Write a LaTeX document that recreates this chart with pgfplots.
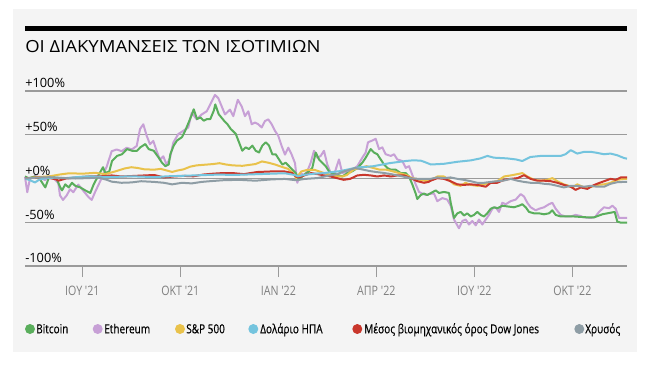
\documentclass[border=0pt]{standalone}
\usepackage{pgfplots}
\pgfplotsset{compat=1.18}
\usepackage{fontspec}
\setmainfont{Open Sans}
\newfontfamily\titlef{Open Sans}[FakeStretch=1.11]
\newfontfamily\condf{Open Sans}[FakeStretch=0.82]
\newfontfamily\legf{Open Sans}[FakeStretch=0.8,FakeBold=0.4]
\definecolor{btc}{HTML}{5AAE5C}
\definecolor{eth}{HTML}{C7A0D6}
\definecolor{spx}{HTML}{E9C24B}
\definecolor{usd}{HTML}{74C4DE}
\definecolor{dji}{HTML}{C9372C}
\definecolor{gold}{HTML}{8E9DA5}
\definecolor{panel}{HTML}{F4F4F4}
\definecolor{gridc}{HTML}{9A9A9A}
\definecolor{ticklab}{HTML}{7F7F7F}
\pgfdeclarelayer{bg}
\pgfsetlayers{bg,main}
\begin{document}
\begin{tikzpicture}
\begin{axis}[scale only axis,
  width=451.5pt, height=131.25pt,
  xmin=4.246, xmax=22.673, ymin=-100, ymax=100, clip=false,
  axis x line=bottom, axis y line=left,
  y axis line style={draw=none},
  x axis line style={draw=gridc, line width=0.9pt, -},
  ymajorgrids, grid style={gridc, line width=0.9pt},
  ytick={-100,-50,0,50,100},
  yticklabels={-100\%,-50\%,+0\%,+50\%,+100\%},
  ytick style={draw=none},
  yticklabel style={font=\fontsize{9.6pt}{11pt}\selectfont, anchor=south west, inner sep=0pt, yshift=2pt, xshift=8.25pt},
  xtick={6,9,12,15,18,21},
  xticklabels={ΙΟΥ '21,ΟΚΤ '21,ΙΑΝ '22,ΑΠΡ '22,ΙΟΥ '22,ΟΚΤ '22},
  tick align=outside, major tick length=8.25pt,
  xtick style={draw=gridc, line width=0.75pt},
  xticklabel style={font=\condf\fontsize{9.75pt}{11pt}\selectfont, text=ticklab, anchor=base, yshift=-13.75pt},
  every axis plot/.append style={no markers, line width=1.5pt, line join=round},
]
\addplot[eth] coordinates {(4.246,1.9)(4.316,-15.7)(4.399,0)(4.552,2.7)(4.705,1.5)(4.858,-1.8)(5.011,2.7)(5.112,0.4)(5.265,-5.2)(5.317,-19.3)(5.409,-24.5)(5.522,-19.3)(5.624,-12.3)(5.725,-15.7)(5.877,-7.0)(6.031,-14.0)(6.184,-21.0)(6.288,-24.5)(6.389,-15.7)(6.542,-3.6)(6.747,13.6)(6.900,31.2)(7.053,33.2)(7.206,31.2)(7.359,35.2)(7.512,33.2)(7.665,37.1)(7.766,56.4)(7.867,62.0)(7.971,48.8)(8.072,39.1)(8.173,43.0)(8.277,31.2)(8.378,21.5)(8.479,25.4)(8.583,15.6)(8.684,23.5)(8.786,41.1)(8.939,50.8)(9.092,54.5)(9.244,58.3)(9.349,75.1)(9.502,67.6)(9.655,73.2)(9.808,76.8)(9.961,88.0)(10.062,95.5)(10.163,91.8)(10.267,82.4)(10.368,73.2)(10.521,78.7)(10.622,71.3)(10.760,89.9)(10.879,82.4)(10.980,71.3)(11.081,76.8)(11.185,62.0)(11.286,63.9)(11.387,62.0)(11.491,58.3)(11.592,65.7)(11.693,67.6)(11.797,62.0)(11.898,54.5)(11.999,48.8)(12.103,37.1)(12.204,27.3)(12.305,35.2)(12.409,27.3)(12.510,17.6)(12.581,-4.9)(12.685,6.2)(12.786,3.9)(12.887,8.2)(12.991,18.0)(13.092,31.7)(13.193,23.8)(13.297,25.8)(13.398,31.7)(13.499,16.0)(13.603,6.2)(13.704,4.2)(13.857,21.8)(13.958,6.2)(14.111,8.2)(14.265,10.1)(14.418,14.1)(14.571,23.8)(14.675,29.7)(14.745,41.4)(14.877,43.4)(14.981,45.3)(15.082,33.6)(15.183,35.6)(15.287,27.7)(15.440,25.8)(15.541,27.7)(15.642,21.8)(15.795,20.0)(15.899,12.1)(16.000,14.1)(16.101,4.2)(16.205,-6.7)(16.306,-15.4)(16.408,-17.2)(16.511,-18.9)(16.643,-17.5)(16.765,-17.2)(16.866,-25.9)(17.019,-22.4)(17.172,-24.1)(17.277,-31.1)(17.378,-46.9)(17.530,-56.9)(17.632,-48.6)(17.735,-46.9)(17.837,-52.6)(17.938,-48.6)(18.042,-53.5)(18.143,-46.9)(18.244,-52.6)(18.348,-46.9)(18.449,-41.6)(18.550,-34.6)(18.654,-32.9)(18.755,-38.2)(18.856,-27.7)(18.960,-29.4)(19.113,-25.9)(19.266,-24.1)(19.419,-17.8)(19.520,-20.6)(19.621,-27.7)(19.725,-32.9)(19.878,-36.4)(19.979,-34.6)(20.132,-32.9)(20.285,-29.4)(20.386,-27.7)(20.490,-34.6)(20.643,-41.6)(20.796,-43.4)(20.949,-43.4)(21.102,-41.6)(21.234,-42.7)(21.357,-44.4)(21.562,-45.1)(21.693,-44.2)(21.816,-38.2)(21.969,-32.9)(22.122,-34.0)(22.223,-31.1)(22.327,-34.6)(22.428,-45.1)(22.673,-45.1)};
\addplot[btc] coordinates {(4.246,2.3)(4.359,0.4)(4.561,2.3)(4.714,-1.5)(4.867,-10.2)(4.972,0.4)(5.125,2.3)(5.226,-1.5)(5.327,-10.2)(5.379,-13.6)(5.480,-6.7)(5.584,-10.2)(5.685,-4.9)(5.786,-8.4)(5.939,-10.2)(6.092,-13.6)(6.245,-16.5)(6.349,-6.7)(6.502,4.2)(6.634,12.9)(6.704,6.2)(6.827,8.2)(6.909,20.0)(7.062,25.8)(7.215,27.7)(7.368,33.6)(7.521,31.7)(7.674,31.7)(7.775,35.6)(7.928,39.4)(8.032,33.6)(8.186,31.7)(8.339,23.8)(8.440,18.0)(8.541,14.1)(8.645,16.0)(8.694,27.7)(8.798,37.6)(8.899,43.4)(9.052,47.3)(9.153,54.9)(9.257,64.2)(9.358,73.5)(9.410,79.1)(9.511,67.9)(9.612,69.8)(9.716,66.1)(9.817,67.9)(9.918,67.9)(10.022,77.3)(10.071,84.7)(10.175,73.5)(10.337,66.1)(10.438,62.3)(10.542,56.7)(10.696,51.1)(10.897,31.7)(11.002,35.6)(11.102,33.6)(11.204,37.6)(11.308,31.7)(11.409,29.7)(11.510,37.6)(11.614,41.4)(11.715,37.6)(11.816,27.7)(11.920,27.7)(12.021,21.8)(12.122,16.0)(12.226,18.0)(12.327,14.1)(12.428,10.1)(12.532,6.2)(12.633,-1.5)(12.786,4.2)(12.939,8.2)(13.040,12.1)(13.144,29.7)(13.245,21.8)(13.346,18.0)(13.450,14.1)(13.551,8.2)(13.652,6.2)(13.806,4.2)(13.959,2.3)(14.112,6.2)(14.265,8.2)(14.418,12.1)(14.571,18.0)(14.675,23.8)(14.828,33.6)(14.929,29.7)(15.030,27.7)(15.134,21.8)(15.235,16.0)(15.336,12.1)(15.440,10.1)(15.593,10.1)(15.746,6.2)(15.899,6.2)(16.000,2.3)(16.101,-6.7)(16.205,-17.2)(16.254,-23.5)(16.358,-18.9)(16.459,-17.2)(16.560,-18.9)(16.818,-13.6)(16.919,-16.5)(17.071,-15.4)(17.224,-16.5)(17.277,-27.7)(17.378,-45.1)(17.479,-39.8)(17.583,-38.2)(17.684,-42.3)(17.785,-39.8)(17.889,-43.4)(17.990,-41.6)(18.091,-38.2)(18.195,-41.6)(18.296,-43.4)(18.397,-39.8)(18.501,-34.6)(18.602,-32.9)(18.703,-34.0)(18.856,-31.1)(19.009,-31.9)(19.214,-32.9)(19.367,-31.1)(19.468,-29.4)(19.572,-32.9)(19.673,-38.2)(19.826,-39.8)(19.979,-39.8)(20.132,-40.9)(20.285,-39.8)(20.386,-36.4)(20.490,-41.6)(20.643,-43.4)(21.050,-43.4)(21.458,-44.4)(21.663,-44.4)(21.816,-42.3)(21.917,-40.9)(22.070,-39.8)(22.297,-38.2)(22.376,-49.3)(22.480,-50.4)(22.673,-50.4)};
\addplot[spx] coordinates {(4.25,0)(4.6,1.5)(5.0,2.5)(5.3,4.5)(5.6,6.0)(6.0,5.5)(6.4,6.5)(6.7,5.0)(7.0,8.0)(7.3,11.5)(7.5,12.9)(7.7,12.0)(7.9,10.5)(8.2,10.1)(8.4,11.0)(8.6,9.0)(8.75,7.5)(8.9,9.0)(9.1,10.5)(9.3,13.5)(9.5,15.0)(9.7,15.6)(10.0,16.5)(10.2,17.5)(10.4,16.0)(10.6,15.0)(10.9,14.5)(11.1,15.5)(11.3,16.5)(11.5,19.5)(11.7,18.0)(11.9,16.0)(12.05,14.0)(12.3,11.0)(12.45,6.0)(12.55,0.5)(12.7,8.0)(12.9,10.0)(13.1,10.0)(13.4,6.2)(13.6,4.2)(13.8,2.3)(13.96,2.3)(14.1,4.0)(14.3,10.1)(14.5,12.1)(14.7,14.1)(14.9,12.1)(15.1,10.1)(15.3,10.1)(15.5,8.2)(15.7,6.2)(15.9,4.2)(16.1,0.4)(16.35,-1.5)(16.55,-3.1)(16.7,-1.5)(16.87,2.3)(17.07,2.3)(17.22,-1.5)(17.38,-6.7)(17.58,-8.4)(17.73,-4.9)(17.89,-7.3)(18.09,-8.4)(18.3,-6.7)(18.5,-4.5)(18.7,-3.1)(18.91,2.3)(19.11,3.5)(19.32,5.0)(19.47,6.2)(19.62,2.3)(19.83,-1.5)(20.03,-2.5)(20.23,-1.5)(20.39,0.4)(20.54,-3.1)(20.74,-6.7)(20.9,-8.4)(21.0,-10.2)(21.15,-6.7)(21.36,-10.2)(21.56,-9.8)(21.76,-7.3)(21.97,-6.7)(22.17,-4.9)(22.38,-1.5)(22.58,-0.4)(22.673,-0.4)};
\addplot[dji] coordinates {(4.25,0)(4.6,1.0)(5.0,0.5)(5.2,-1.0)(5.27,-2.5)(5.5,0)(5.9,1.5)(6.2,2.3)(6.6,2.6)(6.9,3.5)(7.2,2.3)(7.5,2.8)(7.9,3.5)(8.2,4.0)(8.5,1.2)(8.8,2.3)(9.1,3.0)(9.4,2.5)(9.7,4.5)(10.0,5.5)(10.3,6.2)(10.6,6.2)(10.95,5.0)(11.35,7.4)(11.87,8.2)(12.2,8.0)(12.43,6.2)(12.53,2.3)(12.63,1.2)(12.79,3.5)(13.0,6.2)(13.2,5.0)(13.4,3.5)(13.6,2.3)(13.8,0.4)(14.0,-1.5)(14.2,-0.4)(14.42,3.5)(14.62,4.2)(14.83,3.5)(15.03,2.3)(15.24,3.5)(15.44,2.3)(15.64,3.5)(15.85,3.5)(16.05,0.4)(16.26,-3.1)(16.46,-4.9)(16.6,-3.9)(16.66,-2.5)(16.87,0.4)(17.07,-0.4)(17.27,-3.1)(17.48,-6.7)(17.68,-7.3)(17.89,-6.7)(18.09,-7.3)(18.35,-9.4)(18.5,-4.9)(18.7,-4.9)(18.91,-1.5)(19.11,-0.4)(19.32,0.4)(19.52,3.8)(19.72,-0.4)(19.93,-2.5)(20.13,-2.5)(20.34,-3.1)(20.54,-4.9)(20.74,-7.3)(20.95,-9.4)(21.1,-13.0)(21.26,-10.2)(21.46,-11.9)(21.61,-8.4)(21.76,-6.0)(21.97,-3.1)(22.17,-0.4)(22.33,-1.5)(22.48,1.2)(22.673,1.2)};
\addplot[usd] coordinates {(4.25,0)(4.4,-2)(4.55,-4.5)(4.7,-1)(4.9,0.5)(5.2,1.0)(5.5,0.5)(5.8,1.5)(6.2,2.5)(6.6,2.0)(7.0,1.8)(7.4,2.5)(7.8,2.2)(8.2,1.5)(8.6,2.5)(9.0,3.0)(9.4,3.5)(9.8,4.0)(10.2,4.5)(10.6,4.0)(11.0,4.5)(11.4,5.0)(11.8,5.5)(12.2,6.0)(12.5,4.0)(12.6,2.5)(12.8,4.2)(13.1,5.5)(13.4,6.2)(13.9,8.5)(14.4,12.5)(14.9,14.0)(15.4,17.5)(15.9,20.0)(16.1,20.7)(16.35,20.5)(16.46,19.1)(16.67,16.0)(17.07,16.8)(17.48,19.1)(17.89,20.7)(18.19,23.0)(18.4,25.8)(18.6,23.8)(19.0,23.0)(19.27,21.8)(19.47,20.0)(19.72,24.6)(20.03,25.8)(20.33,25.8)(20.64,25.8)(20.79,27.7)(20.95,32.4)(21.15,28.5)(21.36,30.5)(21.56,30.5)(21.76,29.3)(21.97,27.7)(22.17,28.5)(22.38,26.5)(22.58,23.4)(22.673,22.7)};
\addplot[gold] coordinates {(4.25,0)(4.6,1.0)(5.0,1.5)(5.4,0.5)(5.8,0)(6.2,0.5)(6.5,1.0)(6.75,-1.5)(6.9,-3.6)(7.2,-4.9)(7.5,-4.5)(7.8,-3.1)(8.2,-3.9)(8.5,-4.9)(8.75,-6.7)(9.05,-4.9)(9.35,-5.6)(9.65,-3.9)(9.9,-3.1)(10.3,-2.0)(10.8,-1.5)(11.3,-2.5)(11.8,-1.0)(12.2,-0.5)(12.55,-2.0)(12.8,-0.5)(13.2,0.5)(13.5,3.0)(13.8,5.0)(14.0,8.0)(14.2,10.1)(14.35,12.0)(14.55,10.5)(14.8,8.5)(15.0,7.4)(15.2,6.5)(15.45,5.0)(15.65,3.5)(15.85,2.0)(16.1,0.0)(16.3,-0.4)(16.46,-0.4)(16.66,-0.4)(16.87,1.2)(17.07,0.4)(17.27,1.2)(17.48,-0.4)(17.68,-1.5)(17.89,-3.1)(18.09,-4.9)(18.3,-4.9)(18.5,-3.9)(18.7,-3.1)(18.91,-2.3)(19.11,-0.4)(19.32,-2.5)(19.52,-3.9)(19.72,-4.9)(19.93,-4.9)(20.13,-6.0)(20.34,-6.7)(20.54,-8.4)(20.74,-10.2)(20.95,-8.4)(21.15,-8.4)(21.36,-9.4)(21.56,-8.4)(21.76,-9.4)(21.97,-9.4)(22.17,-6.0)(22.38,-4.2)(22.58,-3.9)(22.673,-3.9)};
\coordinate (O) at (rel axis cs:0,0);
\end{axis}
\begin{scope}[shift={(O)}, x=0.75pt, y=0.75pt, shift={(-25,-109)}]
\begin{pgfonlayer}{bg}
\fill[white] (0,0) rectangle (652,375);
\fill[panel] (13,23) rectangle (637,366);
\end{pgfonlayer}
\fill[black] (25,344) rectangle (627,349.3);
\node[anchor=base west, inner sep=0pt, font=\titlef\fontsize{12.5pt}{14pt}\selectfont] at (25,322) {ΟΙ ΔΙΑΚΥΜΑΝΣΕΙΣ ΤΩΝ ΙΣΟΤΙΜΙΩΝ};
\begin{scope}[font=\legf\fontsize{9.4pt}{11pt}\selectfont]
\fill[btc] (30,46) circle (5);
\node[anchor=base west, inner sep=0pt] at (36,41.7) {Bitcoin};
\fill[eth] (97.7,46) circle (5);
\node[anchor=base west, inner sep=0pt] at (104,41.7) {Ethereum};
\fill[spx] (180,46) circle (5);
\node[anchor=base west, inner sep=0pt] at (186,41.7) {S\&P 500};
\fill[usd] (253.3,46) circle (5);
\node[anchor=base west, inner sep=0pt] at (260,41.7) {Δολάριο ΗΠΑ};
\fill[dji] (357.3,46) circle (5);
\node[anchor=base west, inner sep=0pt] at (364,41.7) {Μέσος βιομηχανικός όρος Dow Jones};
\fill[gold] (579.3,46) circle (5);
\node[anchor=base west, inner sep=0pt] at (585,41.7) {Χρυσός};
\end{scope}
\end{scope}
\end{tikzpicture}
\end{document}
